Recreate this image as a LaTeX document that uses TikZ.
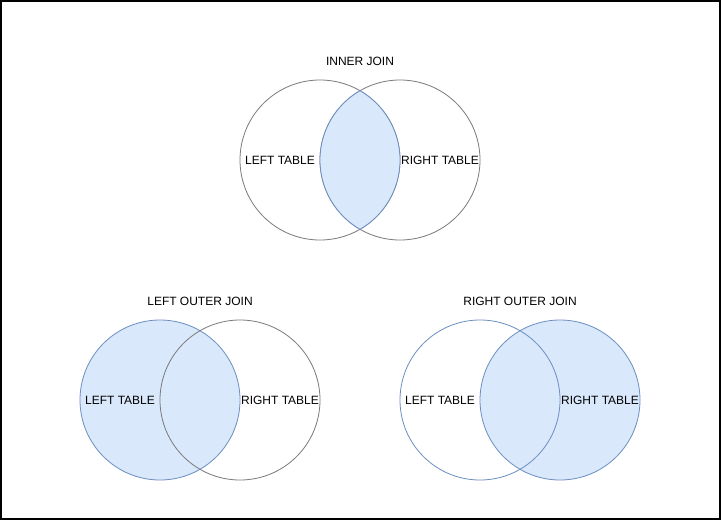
\documentclass[tikz,border=0pt]{standalone}
\usepackage{fontspec}
\setmainfont{Liberation Sans}
\usepackage{tikz}
\usetikzlibrary{positioning}
\definecolor{setfill}{HTML}{DAE8FC}
\definecolor{setline}{HTML}{6C8EBF}
\definecolor{greyline}{HTML}{7A7A7A}
\tikzset{
  set/.style={circle, draw=greyline, line width=0.8pt, minimum size=160pt, inner sep=0pt},
  blueset/.style={set, draw=setline},
  shadedset/.style={blueset, fill=setfill},
  title/.style={font=\fontsize{12}{14}\selectfont, inner sep=0pt},
  tablelabel/.style={font=\fontsize{12}{14}\selectfont, inner sep=0pt}
}
\begin{document}
\begin{tikzpicture}[x=1pt, y=-1pt]
\useasboundingbox (0,0) rectangle (722,522);
\draw[line width=1.5pt] (1,1) rectangle (720,519);

% inner join
\node[title] (innertitle) at (360,61) {INNER JOIN};
\node[set] (innerL) at (320,160) {};
\node[set] (innerR) at (400,160) {};
\begin{scope}
  \clip (innerL.center) circle (80pt);
  \fill[setfill] (innerR.center) circle (80pt);
  \draw[setline, line width=0.8pt] (innerR.center) circle (80pt);
\end{scope}
\begin{scope}
  \clip (innerR.center) circle (80pt);
  \draw[setline, line width=0.8pt] (innerL.center) circle (80pt);
\end{scope}
\node[tablelabel] (innerLtext) at (280,160) {LEFT TABLE};
\node[tablelabel] (innerRtext) at (440,160) {RIGHT TABLE};

% left outer join
\node[title] (lefttitle) at (200,301) {LEFT OUTER JOIN};
\node[shadedset] (leftL) at (160,400) {};
\node[set] (leftR) at (240,400) {};
\node[tablelabel] (leftLtext) at (120,400) {LEFT TABLE};
\node[tablelabel] (leftRtext) at (280,400) {RIGHT TABLE};

% right outer join
\node[title] (righttitle) at (520,301) {RIGHT OUTER JOIN};
\node[shadedset] (rightR) at (560,400) {};
\node[blueset] (rightL) at (480,400) {};
\node[tablelabel] (rightLtext) at (440,400) {LEFT TABLE};
\node[tablelabel] (rightRtext) at (600,400) {RIGHT TABLE};
\end{tikzpicture}
\end{document}
